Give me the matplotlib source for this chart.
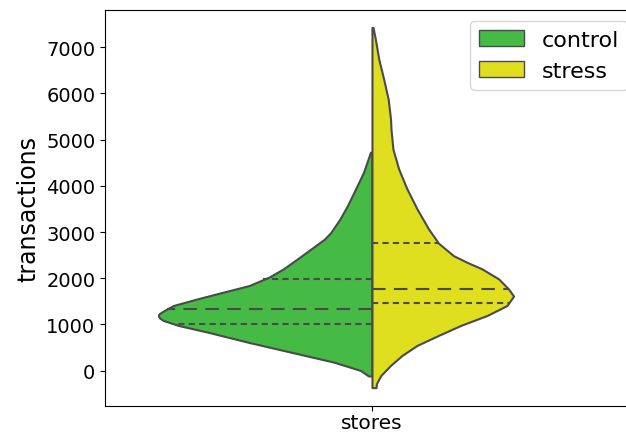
import numpy as np
import matplotlib
matplotlib.use('Agg')
import matplotlib.pyplot as plt
from matplotlib.patches import Patch

groups = ['control', 'stress']
colors = ['#45ba45', '#dfdf20']
edge = '#4a4a4a'

# violin outline: transactions level and relative density (1 = widest)
control_y = [4730, 4290, 3932, 3572, 3284, 2996, 2850, 2636, 2420, 2204, 2030, 1843, 1700,
             1555, 1411, 1268, 1225, 1181, 1135, 1087, 979, 835, 619, 403, 187, 6, -115]
control_d = [0.007, 0.040, 0.077, 0.115, 0.150, 0.192, 0.222, 0.285, 0.349, 0.415, 0.480, 0.575, 0.696,
             0.817, 0.930, 0.985, 0.998, 1.0, 0.993, 0.977, 0.906, 0.770, 0.583, 0.382, 0.180, 0.054, 0.016]
stress_y = [7430, 7172, 6740, 6308, 5876, 5444, 5232, 4799, 4366, 3933, 3500, 3067, 2757, 2489, 2346,
            2204, 1987, 1771, 1614, 1411, 1195, 979, 763, 547, 331, 115, -101, -281, -367]
stress_d = [0.005, 0.016, 0.032, 0.055, 0.076, 0.087, 0.089, 0.098, 0.125, 0.164, 0.211, 0.265, 0.312, 0.382, 0.445,
            0.515, 0.593, 0.639, 0.663, 0.632, 0.539, 0.415, 0.311, 0.211, 0.141, 0.087, 0.042, 0.021, 0.019]

# quartiles (q1, median, q3)
control_q = [1000, 1340, 1975]
stress_q = [1462, 1771, 2758]

fig = plt.figure(figsize=(6.26, 4.35), dpi=100)
ax = fig.add_axes([0.1677, 0.0637, 0.853, 0.9117])

half = 0.4
profiles = [(control_y, control_d, control_q, -1), (stress_y, stress_d, stress_q, 1)]
for (ys, ds, qs, side), c in zip(profiles, colors):
    ys = np.array(ys)
    ds = np.array(ds)
    ax.fill_betweenx(ys, 0, side * ds * half, facecolor=c, edgecolor=edge, linewidth=1.5,
                     joinstyle='round', zorder=2)
    order = np.argsort(ys)
    for i, q in enumerate(qs):
        w = np.interp(q, ys[order], ds[order]) * half
        dash = [6.5, 4] if i == 1 else [3, 2]
        ax.plot([0, side * w], [q, q], color=edge, linewidth=1.5, dashes=dash, zorder=3)

ax.set_xlim(-0.5, 0.5)
ax.set_ylim(-771, 7814)
ax.set_xticks([0])
ax.set_xticklabels(['stores'], fontsize=14.5)
ax.tick_params(axis='x', pad=1.5)
ax.set_yticks(range(0, 8000, 1000))
ax.tick_params(axis='y', labelsize=14)
ax.set_ylabel('transactions', fontsize=17)

handles = [Patch(facecolor=c, edgecolor=edge, label=g) for g, c in zip(groups, colors)]
ax.legend(handles=handles, loc='upper right', fontsize=16)

fig.savefig('out.png', dpi=100)
